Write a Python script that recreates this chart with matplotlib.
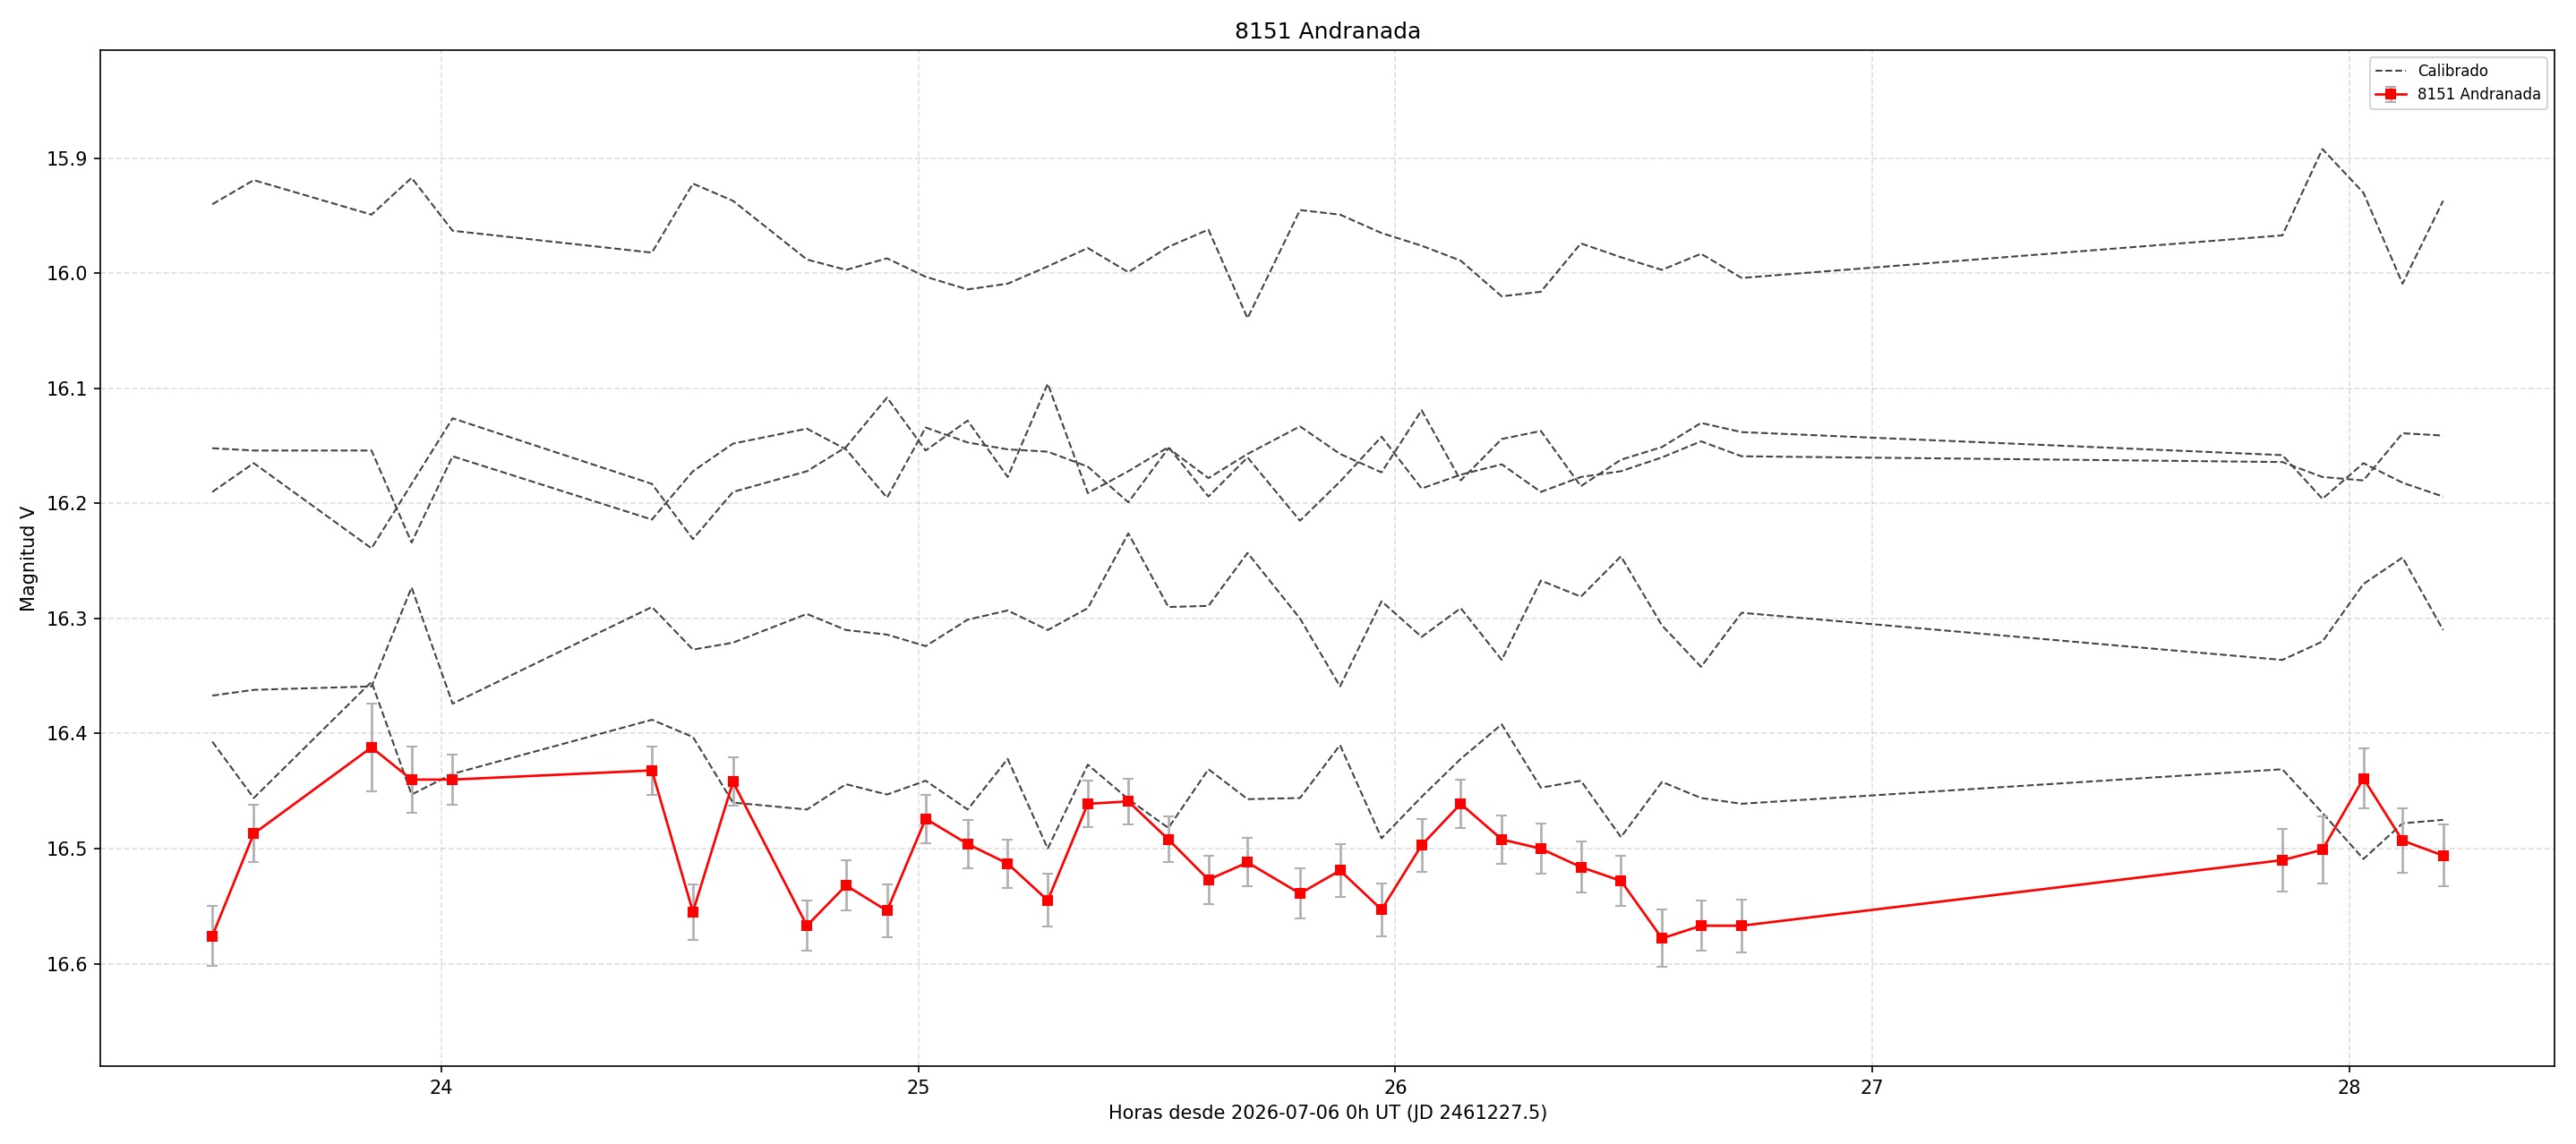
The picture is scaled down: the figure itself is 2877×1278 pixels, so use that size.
import matplotlib
matplotlib.use("Agg")
import matplotlib.pyplot as plt

# tiempos (horas desde 2026-07-06 0h UT)
horas = [23.519, 23.606, 23.853, 23.937, 24.023, 24.441, 24.527, 24.611,
         24.766, 24.848, 24.934, 25.015, 25.103, 25.187, 25.271, 25.355,
         25.440, 25.524, 25.608, 25.690, 25.800, 25.884, 25.971, 26.055,
         26.137, 26.223, 26.305, 26.389, 26.473, 26.559, 26.641, 26.726,
         27.860, 27.944, 28.030, 28.112, 28.197]

# estrellas de comparacion calibradas
cal_a = [15.940, 15.919, 15.949, 15.917, 15.963, 15.982, 15.922, 15.937,
         15.988, 15.997, 15.987, 16.003, 16.014, 16.009, 15.994, 15.978,
         15.999, 15.977, 15.962, 16.039, 15.945, 15.949, 15.965, 15.976,
         15.989, 16.020, 16.016, 15.974, 15.986, 15.997, 15.983, 16.004,
         15.967, 15.892, 15.930, 16.009, 15.937]
cal_b = [16.152, 16.154, 16.154, 16.234, 16.159, 16.214, 16.172, 16.148,
         16.135, 16.153, 16.195, 16.134, 16.147, 16.153, 16.155, 16.168,
         16.199, 16.152, 16.178, 16.157, 16.133, 16.157, 16.173, 16.119,
         16.180, 16.144, 16.137, 16.185, 16.162, 16.151, 16.130, 16.138,
         16.158, 16.196, 16.165, 16.182, 16.194]
cal_c = [16.190, 16.165, 16.239, 16.183, 16.126, 16.183, 16.231, 16.190,
         16.172, 16.151, 16.108, 16.154, 16.128, 16.177, 16.096, 16.191,
         16.172, 16.151, 16.194, 16.160, 16.215, 16.181, 16.142, 16.187,
         16.175, 16.166, 16.190, 16.177, 16.172, 16.160, 16.146, 16.159,
         16.164, 16.177, 16.180, 16.139, 16.141]
cal_d = [16.367, 16.362, 16.359, 16.273, 16.374, 16.290, 16.327, 16.321,
         16.296, 16.310, 16.314, 16.324, 16.301, 16.293, 16.310, 16.291,
         16.226, 16.290, 16.289, 16.243, 16.300, 16.359, 16.285, 16.316,
         16.291, 16.336, 16.267, 16.281, 16.246, 16.306, 16.342, 16.295,
         16.336, 16.320, 16.270, 16.247, 16.310]
cal_e = [16.407, 16.456, 16.355, 16.453, 16.435, 16.388, 16.403, 16.460,
         16.466, 16.444, 16.453, 16.441, 16.466, 16.422, 16.500, 16.427,
         16.457, 16.482, 16.431, 16.457, 16.456, 16.410, 16.491, 16.455,
         16.422, 16.392, 16.447, 16.441, 16.490, 16.442, 16.456, 16.461,
         16.431, 16.469, 16.509, 16.478, 16.475]

# asteroide
mag = [16.576, 16.487, 16.412, 16.440, 16.440, 16.432, 16.555, 16.442,
       16.567, 16.532, 16.554, 16.474, 16.496, 16.513, 16.545, 16.461,
       16.459, 16.492, 16.527, 16.512, 16.539, 16.519, 16.553, 16.497,
       16.461, 16.492, 16.500, 16.516, 16.528, 16.578, 16.567, 16.567,
       16.510, 16.501, 16.439, 16.493, 16.506]
err = [0.026, 0.025, 0.038, 0.029, 0.022, 0.021, 0.024, 0.021,
       0.022, 0.022, 0.023, 0.021, 0.021, 0.021, 0.023, 0.020,
       0.020, 0.020, 0.021, 0.021, 0.022, 0.023, 0.023, 0.023,
       0.021, 0.021, 0.022, 0.022, 0.022, 0.025, 0.022, 0.023,
       0.027, 0.029, 0.026, 0.028, 0.027]

nombre = '8151 Andranada'

fig, ax = plt.subplots(figsize=(2877/150, 1278/150), dpi=150)
fig.subplots_adjust(left=0.0391, right=0.9917, top=0.9562, bottom=0.0681)

for i, serie in enumerate([cal_a, cal_b, cal_c, cal_d, cal_e]):
    ax.plot(horas, serie, '--', color='#444444', lw=1.0,
            label='Calibrado' if i == 0 else None)

ax.errorbar(horas, mag, yerr=err, fmt='-s', color='red', ms=5, lw=1.3,
            ecolor='#b0b0b0', elinewidth=1.3, capsize=3, label=nombre)

ax.set_ylim(16.689, 15.806)
ax.set_xlabel('Horas desde 2026-07-06 0h UT (JD 2461227.5)')
ax.set_ylabel('Magnitud V')
ax.set_title(nombre)
ax.grid(True, linestyle='--', alpha=0.4)
ax.legend(loc='upper right', fontsize=8)

fig.savefig('out.png', dpi=150)
